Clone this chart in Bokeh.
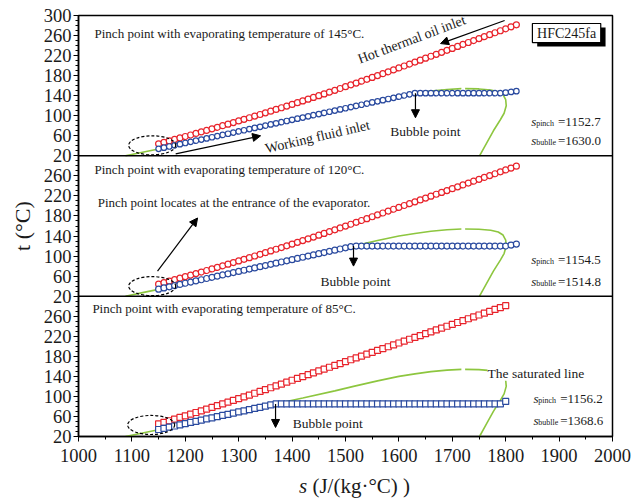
from bokeh.plotting import figure
from bokeh.models import Range1d, FixedTicker, Label, Arrow, NormalHead, Span, Div
from bokeh.layouts import column
from bokeh.embed import file_html
from bokeh.resources import INLINE

# ---------------- data ----------------
S_GRID = [1150, 1160, 1170, 1180, 1190, 1200, 1210, 1220, 1230, 1240,
          1250, 1260, 1270, 1280, 1290, 1300, 1310, 1320, 1330, 1340,
          1350, 1360, 1370, 1380, 1390, 1400, 1410, 1420, 1430, 1440,
          1450, 1460, 1470, 1480, 1490, 1500, 1510, 1520, 1530, 1540,
          1550, 1560, 1570, 1580, 1590, 1600, 1610, 1620, 1630, 1640,
          1650, 1660, 1670, 1680, 1690, 1700, 1710, 1720, 1730, 1740,
          1750, 1760, 1770, 1780, 1790, 1800, 1810, 1820]
S_GRID_BOT = S_GRID[:-2]

# hot thermal oil temperature (deg C)
OIL_TOP = [44.0, 46.9, 49.8, 52.7, 55.7, 58.6, 61.6, 64.7, 67.7, 70.7,
           73.8, 76.9, 80.1, 83.2, 86.4, 89.6, 92.8, 96.0, 99.3, 102.5,
           105.8, 109.1, 112.5, 115.9, 119.2, 122.6, 126.1, 129.5, 133.0, 136.5,
           140.0, 143.5, 147.1, 150.7, 154.3, 157.9, 161.6, 165.2, 168.9, 172.6,
           176.4, 180.1, 183.9, 187.7, 191.5, 195.3, 199.2, 203.1, 207.0, 210.9,
           214.8, 218.7, 222.6, 226.5, 230.5, 234.4, 238.3, 242.2, 246.1, 250.0,
           253.9, 257.8, 261.7, 265.6, 269.6, 273.5, 277.4, 281.3]
OIL_MID = [44.0, 46.9, 49.9, 52.9, 55.8, 58.9, 61.9, 65.0, 68.1, 71.2,
           74.3, 77.4, 80.6, 83.8, 87.0, 90.3, 93.5, 96.8, 100.1, 103.5,
           106.8, 110.2, 113.6, 117.0, 120.5, 123.9, 127.4, 130.9, 134.5, 138.0,
           141.6, 145.2, 148.8, 152.4, 156.1, 159.8, 163.5, 167.3, 171.0, 174.7,
           178.5, 182.2, 185.9, 189.7, 193.4, 197.1, 200.9, 204.6, 208.3, 212.1,
           215.8, 219.5, 223.3, 227.0, 230.7, 234.5, 238.2, 241.9, 245.7, 249.4,
           253.1, 256.9, 260.6, 264.3, 268.1, 271.8, 275.5, 279.3]
OIL_BOT = [45.0, 48.2, 51.4, 54.7, 58.0, 61.2, 64.6, 67.9, 71.3, 74.7,
           78.1, 81.5, 85.0, 88.5, 92.0, 95.6, 99.1, 102.7, 106.3, 110.0,
           113.6, 117.3, 121.0, 124.7, 128.4, 132.2, 135.9, 139.6, 143.3, 147.0,
           150.8, 154.5, 158.2, 161.9, 165.6, 169.4, 173.1, 176.8, 180.5, 184.2,
           188.0, 191.7, 195.4, 199.1, 202.8, 206.6, 210.3, 214.0, 217.7, 221.4,
           225.2, 228.9, 232.6, 236.3, 240.0, 243.8, 247.5, 251.2, 254.9, 258.6,
           262.4, 266.1, 269.8, 273.5, 277.2, 281.0]

# working fluid temperature (deg C)
WF_TOP = ([34.0, 36.3, 38.6, 40.9, 43.3, 45.6, 47.9, 50.2, 52.5, 54.8,
           57.1, 59.4, 61.8, 64.1, 66.4, 68.7, 71.0, 73.3, 75.6, 77.9,
           80.3, 82.6, 84.9, 87.2, 89.5, 91.8, 94.1, 96.4, 98.8, 101.1,
           103.4, 105.7, 108.0, 110.3, 112.6, 114.9, 117.3, 119.6, 121.9, 124.2,
           126.5, 128.8, 131.1, 133.4, 135.8, 138.1, 140.4, 142.7, 145.0]
          + [145.0] * 16 + [146.0, 147.5, 149.0])
WF_MID = ([34.0, 36.4, 38.7, 41.1, 43.4, 45.8, 48.1, 50.5, 52.8, 55.2,
           57.6, 59.9, 62.3, 64.6, 67.0, 69.3, 71.7, 74.1, 76.4, 78.8,
           81.1, 83.5, 85.8, 88.2, 90.6, 92.9, 95.3, 97.6, 100.0, 102.3,
           104.7, 107.0, 109.4, 111.8, 114.1, 116.5, 118.8]
          + [120.0] * 29 + [122.0, 124.0])
WF_BOT = ([34.0, 36.3, 38.7, 41.0, 43.3, 45.7, 48.0, 50.3, 52.7, 55.0,
           57.3, 59.7, 62.0, 64.3, 66.7, 69.0, 71.3, 73.7, 76.0, 78.3,
           80.7, 83.0]
          + [85.0] * 43 + [90.0])

# saturated line of HFC245fa
LIQ_S = [1088, 1120, 1152, 1200, 1250, 1300, 1368, 1420, 1480, 1515, 1560, 1600, 1630, 1660, 1690, 1717]
LIQ_T = [20, 27, 34, 45.5, 57, 68.5, 85, 97, 111, 120, 131, 140, 145, 149.5, 152.5, 154]
VAP_S = [1724, 1750, 1772, 1786, 1795, 1800, 1801, 1797, 1790, 1777, 1764, 1751]
VAP_T = [154, 153.5, 151.5, 148, 142, 132, 120, 105, 92, 70, 45, 20]

EVAP_T = [145, 120, 85]
S_PINCH = ["1152.7", "1154.5", "1156.2"]
S_BUBBLE = ["1630.0", "1514.8", "1368.6"]

X_TICKS = [1000, 1100, 1200, 1300, 1400, 1500, 1600, 1700, 1800, 1900, 2000]
T_TICKS = [20, 60, 100, 140, 180, 220, 260, 300]

for a, b in [(OIL_TOP, S_GRID), (OIL_MID, S_GRID), (WF_TOP, S_GRID), (WF_MID, S_GRID),
             (OIL_BOT, S_GRID_BOT), (WF_BOT, S_GRID_BOT)]:
    assert len(a) == len(b), (len(a), len(b))

# ---------------- layout helpers ----------------
BASE = {"top": 560, "mid": 280, "bot": 0}   # stacked panels, each spans t = 20..300


def Y(t, panel):
    if isinstance(t, (list, tuple)):
        return [v - 20 + BASE[panel] for v in t]
    return t - 20 + BASE[panel]


RED = "#e8232b"
BLUE = "#2a4a9f"
GREEN = "#8dc63f"
SERIF = "Liberation Serif"
INK = "#1a1a1a"

p = figure(frame_width=534, frame_height=421,
           x_range=Range1d(1000, 2000), y_range=Range1d(0, 840),
           output_backend="svg", toolbar_location=None,
           min_border_left=78, min_border_right=31, min_border_top=15, min_border_bottom=36,
           background_fill_color="white", border_fill_color="white")
p.xgrid.visible = False
p.ygrid.visible = False
p.outline_line_color = "black"
p.outline_line_width = 1.5

# axes
p.xaxis.ticker = FixedTicker(ticks=X_TICKS, minor_ticks=[x + 50 for x in X_TICKS[:-1]])
y_major, overrides = [], {}
for panel, labels in (("bot", T_TICKS[:-1]), ("mid", T_TICKS[:-1]), ("top", T_TICKS)):
    for t in labels:
        y_major.append(Y(t, panel))
        overrides[Y(t, panel)] = str(t)
y_major = sorted(set(y_major))
p.yaxis.ticker = FixedTicker(ticks=y_major, minor_ticks=list(range(0, 841, 10)))
p.yaxis.major_label_overrides = overrides
for ax in (p.xaxis[0], p.yaxis[0]):
    ax.axis_line_color = "black"
    ax.axis_line_width = 1.5
    ax.major_tick_line_color = "black"
    ax.minor_tick_line_color = "black"
    ax.major_tick_in = 0
    ax.major_tick_out = 5
    ax.minor_tick_in = 0
    ax.minor_tick_out = 3
    ax.major_label_text_font = SERIF
    ax.major_label_text_font_size = "18.5px"
    ax.major_label_text_color = INK
p.xaxis.major_label_standoff = 7
p.yaxis.major_label_standoff = 2
p.yaxis.axis_label = "t (°C)"
p.yaxis.axis_label_text_font = SERIF
p.yaxis.axis_label_text_font_style = "normal"
p.yaxis.axis_label_text_font_size = "22px"
p.yaxis.axis_label_text_color = INK
p.yaxis.axis_label_standoff = 6

for loc in (BASE["mid"], BASE["top"]):
    p.add_layout(Span(location=loc, dimension="width", line_color="black", line_width=1.5))

PANELS = [
    ("top", OIL_TOP, WF_TOP, S_GRID, "circle"),
    ("mid", OIL_MID, WF_MID, S_GRID, "circle"),
    ("bot", OIL_BOT, WF_BOT, S_GRID_BOT, "square"),
]

for panel, oil, wf, sg, marker in PANELS:
    # saturated line
    p.line(LIQ_S, Y(LIQ_T, panel), line_color=GREEN, line_width=1.6)
    p.line(VAP_S, Y(VAP_T, panel), line_color=GREEN, line_width=1.6)
    # hot oil
    p.scatter(sg, Y(oil, panel), marker=marker, size=6, line_color=RED,
              fill_color="white", line_width=1.2)
    # working fluid
    p.line(sg, Y(wf, panel), line_color=BLUE, line_width=1.3)
    p.scatter(sg, Y(wf, panel), marker=marker, size=6 if panel != "top" else 5.5,
              line_color=BLUE, fill_color="white", line_width=1.2)

# dashed ellipses at pinch point
ELL_S = [1138, 1138, 1136]
ELL_T = [41, 40, 43]
p.ellipse([ELL_S[0], ELL_S[1], ELL_S[2]],
          [Y(ELL_T[0], "top"), Y(ELL_T[1], "mid"), Y(ELL_T[2], "bot")],
          width=88, height=38, fill_color=None, line_color="black",
          line_dash="3 2", line_width=1.2)


def arrow(s0, t0, s1, t1, panel):
    p.add_layout(Arrow(end=NormalHead(size=8, fill_color="black", line_color="black"),
                       x_start=s0, y_start=Y(t0, panel), x_end=s1, y_end=Y(t1, panel),
                       line_color="black", line_width=1.2))


def label(s, t, panel, text, size="13px", style="normal", angle=0.0,
          align="left", baseline="middle", bg=None):
    kw = {}
    if bg:
        kw = dict(background_fill_color=bg, background_fill_alpha=1.0)
    p.add_layout(Label(x=s, y=Y(t, panel), text=text, text_font=SERIF,
                       text_font_size=size, text_font_style=style, text_color=INK,
                       angle=angle, text_align=align, text_baseline=baseline, **kw))


# titles
label(1030, 264, "top", "Pinch point with evaporating temperature of %d°C." % EVAP_T[0])
label(1030, 272, "mid", "Pinch point with evaporating temperature of %d°C." % EVAP_T[1])
label(1026, 276, "bot", "Pinch point with evaporating temperature of %d°C." % EVAP_T[2])

# top panel annotations
label(1524, 212, "top", "Hot thermal oil inlet", size="14px", angle=0.36, baseline="alphabetic")
arrow(1798, 290, 1678, 244, "top")
label(1350, 34, "top", "Working fluid inlet", size="14px", angle=0.227, baseline="alphabetic")
arrow(1182, 24, 1341, 60, "top")
label(1584, 68, "top", "Bubble point", size="13.5px")
arrow(1631, 145, 1631, 96, "top")

# HFC245fa tag with shadow
p.rect([1923], [Y(257, "top")], width=128, height=38, fill_color="black", line_color=None)
p.rect([1914], [Y(265, "top")], width=128, height=38, fill_color="white",
       line_color="black", line_width=1.2)
label(1914, 265, "top", "HFC245fa", size="14px", align="center")

# middle panel annotations
label(1036, 206, "mid", "Pinch point locates at the entrance of the evaporator.")
arrow(1148, 70, 1223, 176, "mid")
label(1453, 50, "mid", "Bubble point", size="13.5px")
arrow(1515, 120, 1515, 80, "mid")

# bottom panel annotations
label(1401, 46, "bot", "Bubble point", size="13.5px")
arrow(1369, 85, 1369, 38, "bot")
label(1766, 146, "bot", "The saturated line", size="13.5px", bg="white")

# s_pinch / s_bubble values
for panel, tp, tb, dx, sp, sb in (("top", 88, 50, 0, S_PINCH[0], S_BUBBLE[0]),
                                  ("mid", 94, 50, 0, S_PINCH[1], S_BUBBLE[1]),
                                  ("bot", 96, 52, 4, S_PINCH[2], S_BUBBLE[2])):
    for t, sub, val in ((tp, "pinch", sp), (tb, "bublle", sb)):
        label(1848 + dx, t, panel, "s", size="13px", style="italic")
        label(1857 + dx, t - 4, panel, sub, size="8px")
        label(1898 + dx, t, panel, "=" + val, size="13px")

# x-axis title (italic s) as real HTML text below the plot
xlabel = Div(text=('<div style="margin:-2px 0 0 294px;font-family:\'Liberation Serif\';'
                   'font-size:21px;line-height:22px;color:#1a1a1a;white-space:nowrap">'
                   '<i>s</i> (J/(kg·°C) )</div>'),
             width=643, height=22)

layout = column(p, xlabel, spacing=0)
open("out.html", "w").write(file_html(layout, INLINE))
